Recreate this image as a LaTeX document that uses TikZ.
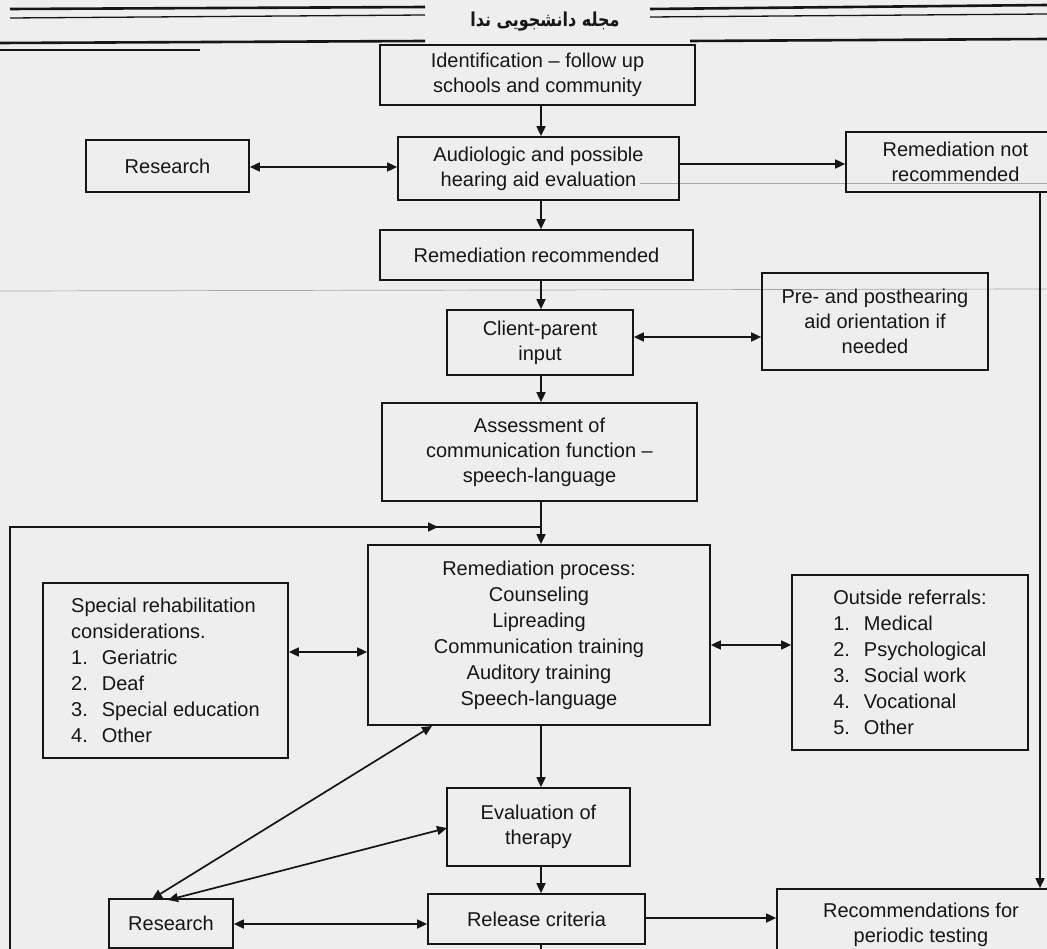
\documentclass[tikz,border=0pt]{standalone}
\usepackage{fontspec}
\setmainfont{Liberation Sans}
\newfontfamily\arabicfont[Script=Arabic]{DejaVu Sans}
\TeXXeTstate=1
\usetikzlibrary{arrows.meta}
\definecolor{paper}{RGB}{238,238,238}
\definecolor{ink}{RGB}{22,22,22}
\newcommand\boxfont{\fontsize{20}{25}\selectfont}
\newcommand\listfont{\fontsize{20}{26}\selectfont}
\begin{document}
\begin{tikzpicture}[x=1pt,y=-1pt,
  box/.style={draw=ink, line width=1.7pt, inner sep=0pt, align=center, font=\boxfont, text=ink},
  conn/.style={draw=ink, line width=1.7pt},
  arr/.style={conn, -{Triangle[length=10pt,width=9pt]}},
  darr/.style={conn, {Triangle[length=10pt,width=9pt]}-{Triangle[length=10pt,width=9pt]}},
  hdr/.style={draw=ink, line width=2.6pt},
  hdrthin/.style={draw=ink, line width=1.3pt},
  scan/.style={draw=gray!70, line width=0.7pt}]
\fill[paper] (0,0) rectangle (1047,949);
\useasboundingbox (0,0) rectangle (1047,949);
\clip (0,0) rectangle (1047,949);

% header rules
\draw[hdr] (10,9) -- (425,7);
\draw[hdrthin] (10,18) -- (425,15);
\draw[hdr] (650,9) -- (1047,5);
\draw[hdrthin] (650,17) -- (1047,14);
\draw[hdr] (0,43) -- (425,41);
\draw[hdrthin] (0,50) -- (200,50);
\draw[hdr] (690,41) -- (1047,39);
\node[text=ink, font=\fontsize{16}{18}\selectfont, yscale=1.2] (title) at (545,22) {\arabicfont\bfseries\beginR مجله دانشجویی ندا\endR};

% scan artifacts
\draw[scan] (640,183) -- (1047,183);
\draw[scan] (0,291) -- (1047,289);

% boxes
\node[box, minimum width=315pt, minimum height=60pt] (ident) at (537.5,75) {Identification -- follow up\\schools and community};
\node[box, minimum width=281pt, minimum height=63pt] (audio) at (538.5,168.5) {Audiologic and possible\\hearing aid evaluation};
\node[box, minimum width=163pt, minimum height=52pt] (res1) at (167.5,166) {Research};
\node[box, minimum width=219pt, minimum height=60pt] (notrec) at (955.5,162) {Remediation not\\recommended};
\node[box, minimum width=313pt, minimum height=50pt] (remrec) at (536.5,255) {Remediation recommended};
\node[box, minimum width=186pt, minimum height=65pt] (client) at (540,342.5) {Client-parent\\input};
\node[box, minimum width=226pt, minimum height=97pt] (pre) at (875,321.5) {Pre- and posthearing\\aid orientation if\\needed};
\node[box, minimum width=315pt, minimum height=98pt] (assess) at (539.5,452) {Assessment of\\communication function --\\speech-language};
\node[box, minimum width=342pt, minimum height=180pt, font=\listfont] (remproc) at (539,635) {Remediation process:\\Counseling\\Lipreading\\Communication training\\Auditory training\\Speech-language};
\node[box, minimum width=245pt, minimum height=175pt, align=left, font=\listfont] (special) at (165.5,670.5) {Special rehabilitation\\considerations.\\1.\hspace{14pt}Geriatric\\2.\hspace{14pt}Deaf\\3.\hspace{14pt}Special education\\4.\hspace{14pt}Other};
\node[box, minimum width=236pt, minimum height=175pt, align=left, font=\listfont] (outside) at (910,662.5) {Outside referrals:\\1.\hspace{14pt}Medical\\2.\hspace{14pt}Psychological\\3.\hspace{14pt}Social work\\4.\hspace{14pt}Vocational\\5.\hspace{14pt}Other};
\node[box, minimum width=183pt, minimum height=78pt] (evalth) at (538.5,827) {Evaluation of\\therapy};
\node[box, minimum width=217pt, minimum height=50pt] (release) at (536.5,919) {Release criteria};
\node[box, minimum width=124pt, minimum height=49pt] (res2) at (171,923.5) {Research};
\node[box, minimum width=288pt, minimum height=72pt] (recs) at (921,925) {Recommendations for\\periodic testing};

% helper coordinates
\coordinate (spine) at (541,0);
\coordinate (rx) at (1040,0);
\coordinate (lb) at (10,949);
\coordinate (lt) at (10,527);
\coordinate (la) at (438,527);
\coordinate (jn) at (541,527);
\coordinate (sb) at (541,949);
\coordinate (d1a) at (152,899);
\coordinate (d1b) at (432,726);
\coordinate (d2a) at (168,900);
\coordinate (d2b) at (447,828);

% main spine
\draw[arr] (ident.south -| spine) -- (audio.north -| spine);
\draw[arr] (audio.south -| spine) -- (remrec.north -| spine);
\draw[arr] (remrec.south -| spine) -- (client.north -| spine);
\draw[arr] (client.south -| spine) -- (assess.north -| spine);
\draw[arr] (assess.south -| spine) -- (remproc.north -| spine);
\draw[arr] (remproc.south -| spine) -- (evalth.north -| spine);
\draw[arr] (evalth.south -| spine) -- (release.north -| spine);
\draw[conn] (release.south -| spine) -- (sb);

% side links
\draw[darr] (res1.east |- 0,167) -- (audio.west |- 0,167);
\draw[arr] (audio.east |- 0,164) -- (notrec.west |- 0,164);
\draw[darr] (client.east |- 0,337) -- (pre.west |- 0,337);
\draw[darr] (special.east |- 0,652) -- (remproc.west |- 0,652);
\draw[darr] (remproc.east |- 0,645) -- (outside.west |- 0,645);
\draw[darr] (res2.east |- 0,924) -- (release.west |- 0,924);
\draw[arr] (release.east |- 0,918) -- (recs.west |- 0,918);
\draw[darr] (d1a) -- (d1b);
\draw[darr] (d2a) -- (d2b);

% right line
\draw[arr] (notrec.south -| rx) -- (recs.north -| rx);

% feedback loop
\draw[conn] (lb) -- (lt) -- (jn);
\draw[arr] (lt) -- (la);
\end{tikzpicture}
\end{document}
